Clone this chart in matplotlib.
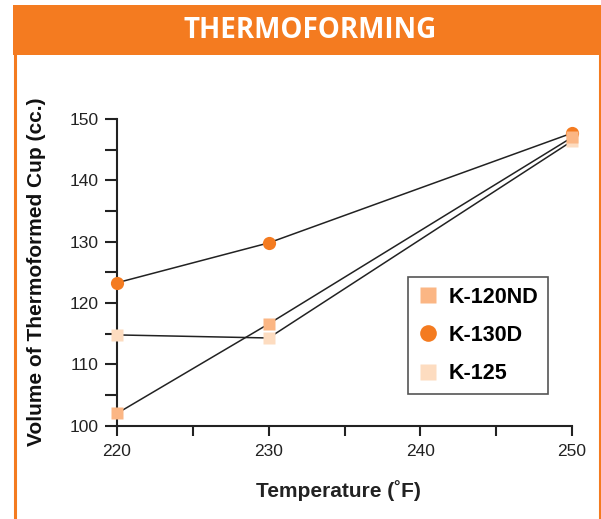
import matplotlib
matplotlib.use("Agg")
import matplotlib.pyplot as plt
from matplotlib.patches import Rectangle
from matplotlib.lines import Line2D

temps = [220, 230, 250]
k120nd = [102.0, 116.6, 147.0]
k130d = [123.3, 129.8, 147.7]
k125 = [114.8, 114.3, 146.4]
series_names = ["K-120ND", "K-130D", "K-125"]
x_ticks = [220, 230, 240, 250]
y_ticks = [100, 110, 120, 130, 140, 150]

ORANGE = "#F47B20"
C120 = "#FBB684"
C125 = "#FDDCC0"

W, H = 601, 519
fig = plt.figure(figsize=(W / 100, H / 100), dpi=100)
fig.patch.set_facecolor("white")

# header band and frame
fig.patches.append(Rectangle((13 / W, 1 - 55 / H), 1 - 13 / W, 50 / H,
                             transform=fig.transFigure, facecolor=ORANGE,
                             edgecolor="none", zorder=0))
fig.lines.append(Line2D([14.5 / W, 14.5 / W], [0, 1 - 55 / H], transform=fig.transFigure,
                        color=ORANGE, lw=2.2))
fig.lines.append(Line2D([599.5 / W, 599.5 / W], [0, 1 - 55 / H], transform=fig.transFigure,
                        color=ORANGE, lw=2.2))
fig.text(310 / W, 1 - 30 / H, "THERMOFORMING", color="white", fontsize=20,
         fontweight="bold", family=["Open Sans", "DejaVu Sans"],
         ha="center", va="center")

ax = fig.add_axes([117 / W, 1 - 425.7 / H, (572 - 117) / W, (425.7 - 119) / H])
ax.set_facecolor("none")

lc = "#222222"
ax.plot(temps, k125, color=lc, lw=1.1, marker="s", ms=9, mfc=C125, mec="none",
        zorder=3, clip_on=False)
ax.plot(temps, k130d, color=lc, lw=1.1, marker="o", ms=9.5, mfc=ORANGE, mec="none",
        zorder=3, clip_on=False)
ax.plot(temps, k120nd, color=lc, lw=1.1, marker="s", ms=9, mfc=C120, mec="none",
        zorder=4, clip_on=False)

ax.set_xlim(220, 250)
ax.set_ylim(100, 150)
ax.set_xticks(x_ticks)
ax.set_xticks([225, 235, 245], minor=True)
ax.set_yticks(y_ticks)
ax.set_yticks([105, 115, 125, 135, 145], minor=True)

for s in ["top", "right"]:
    ax.spines[s].set_visible(False)
for s in ["left", "bottom"]:
    ax.spines[s].set_linewidth(1.5)
    ax.spines[s].set_color(lc)
    ax.spines[s].set_zorder(2)

tickfont = ["Liberation Sans Narrow", "Liberation Sans", "DejaVu Sans"]
ax.tick_params(axis="y", which="both", direction="out", length=9, width=1.5, color=lc, pad=4)
ax.tick_params(axis="x", which="both", direction="out", length=7, width=1.5, color=lc, pad=6)
for lab in ax.get_xticklabels() + ax.get_yticklabels():
    lab.set_family(tickfont)
    lab.set_fontsize(12.5)
    lab.set_color("#222222")

fig.text(37 / W, 1 - 272 / H, "Volume of Thermoformed Cup (cc.)", rotation=90,
         fontsize=15, fontweight="bold", family=["Liberation Sans", "DejaVu Sans"],
         ha="center", va="center", color="#111111")
fig.text(338 / W, 1 - 491 / H, "Temperature (˚F)", fontsize=15,
         fontweight="bold", family=["Liberation Sans", "DejaVu Sans"],
         ha="center", va="center", color="#222222")

handles = [
    Line2D([], [], ls="none", marker="s", ms=11, mfc=C120, mec="none"),
    Line2D([], [], ls="none", marker="o", ms=12, mfc=ORANGE, mec="none"),
    Line2D([], [], ls="none", marker="s", ms=11, mfc=C125, mec="none"),
]
leg = ax.legend(handles, series_names, loc="upper left",
                bbox_to_anchor=(408 / W, 1 - 277 / H), bbox_transform=fig.transFigure,
                prop={"family": ["Liberation Sans", "DejaVu Sans"], "weight": "bold", "size": 15.5},
                frameon=True, fancybox=False, edgecolor="#555555", framealpha=1,
                borderpad=0.45, labelspacing=0.8, handlelength=1.0, handletextpad=0.45,
                borderaxespad=0)
leg.get_frame().set_linewidth(1.2)

fig.savefig("out.png", dpi=100)
